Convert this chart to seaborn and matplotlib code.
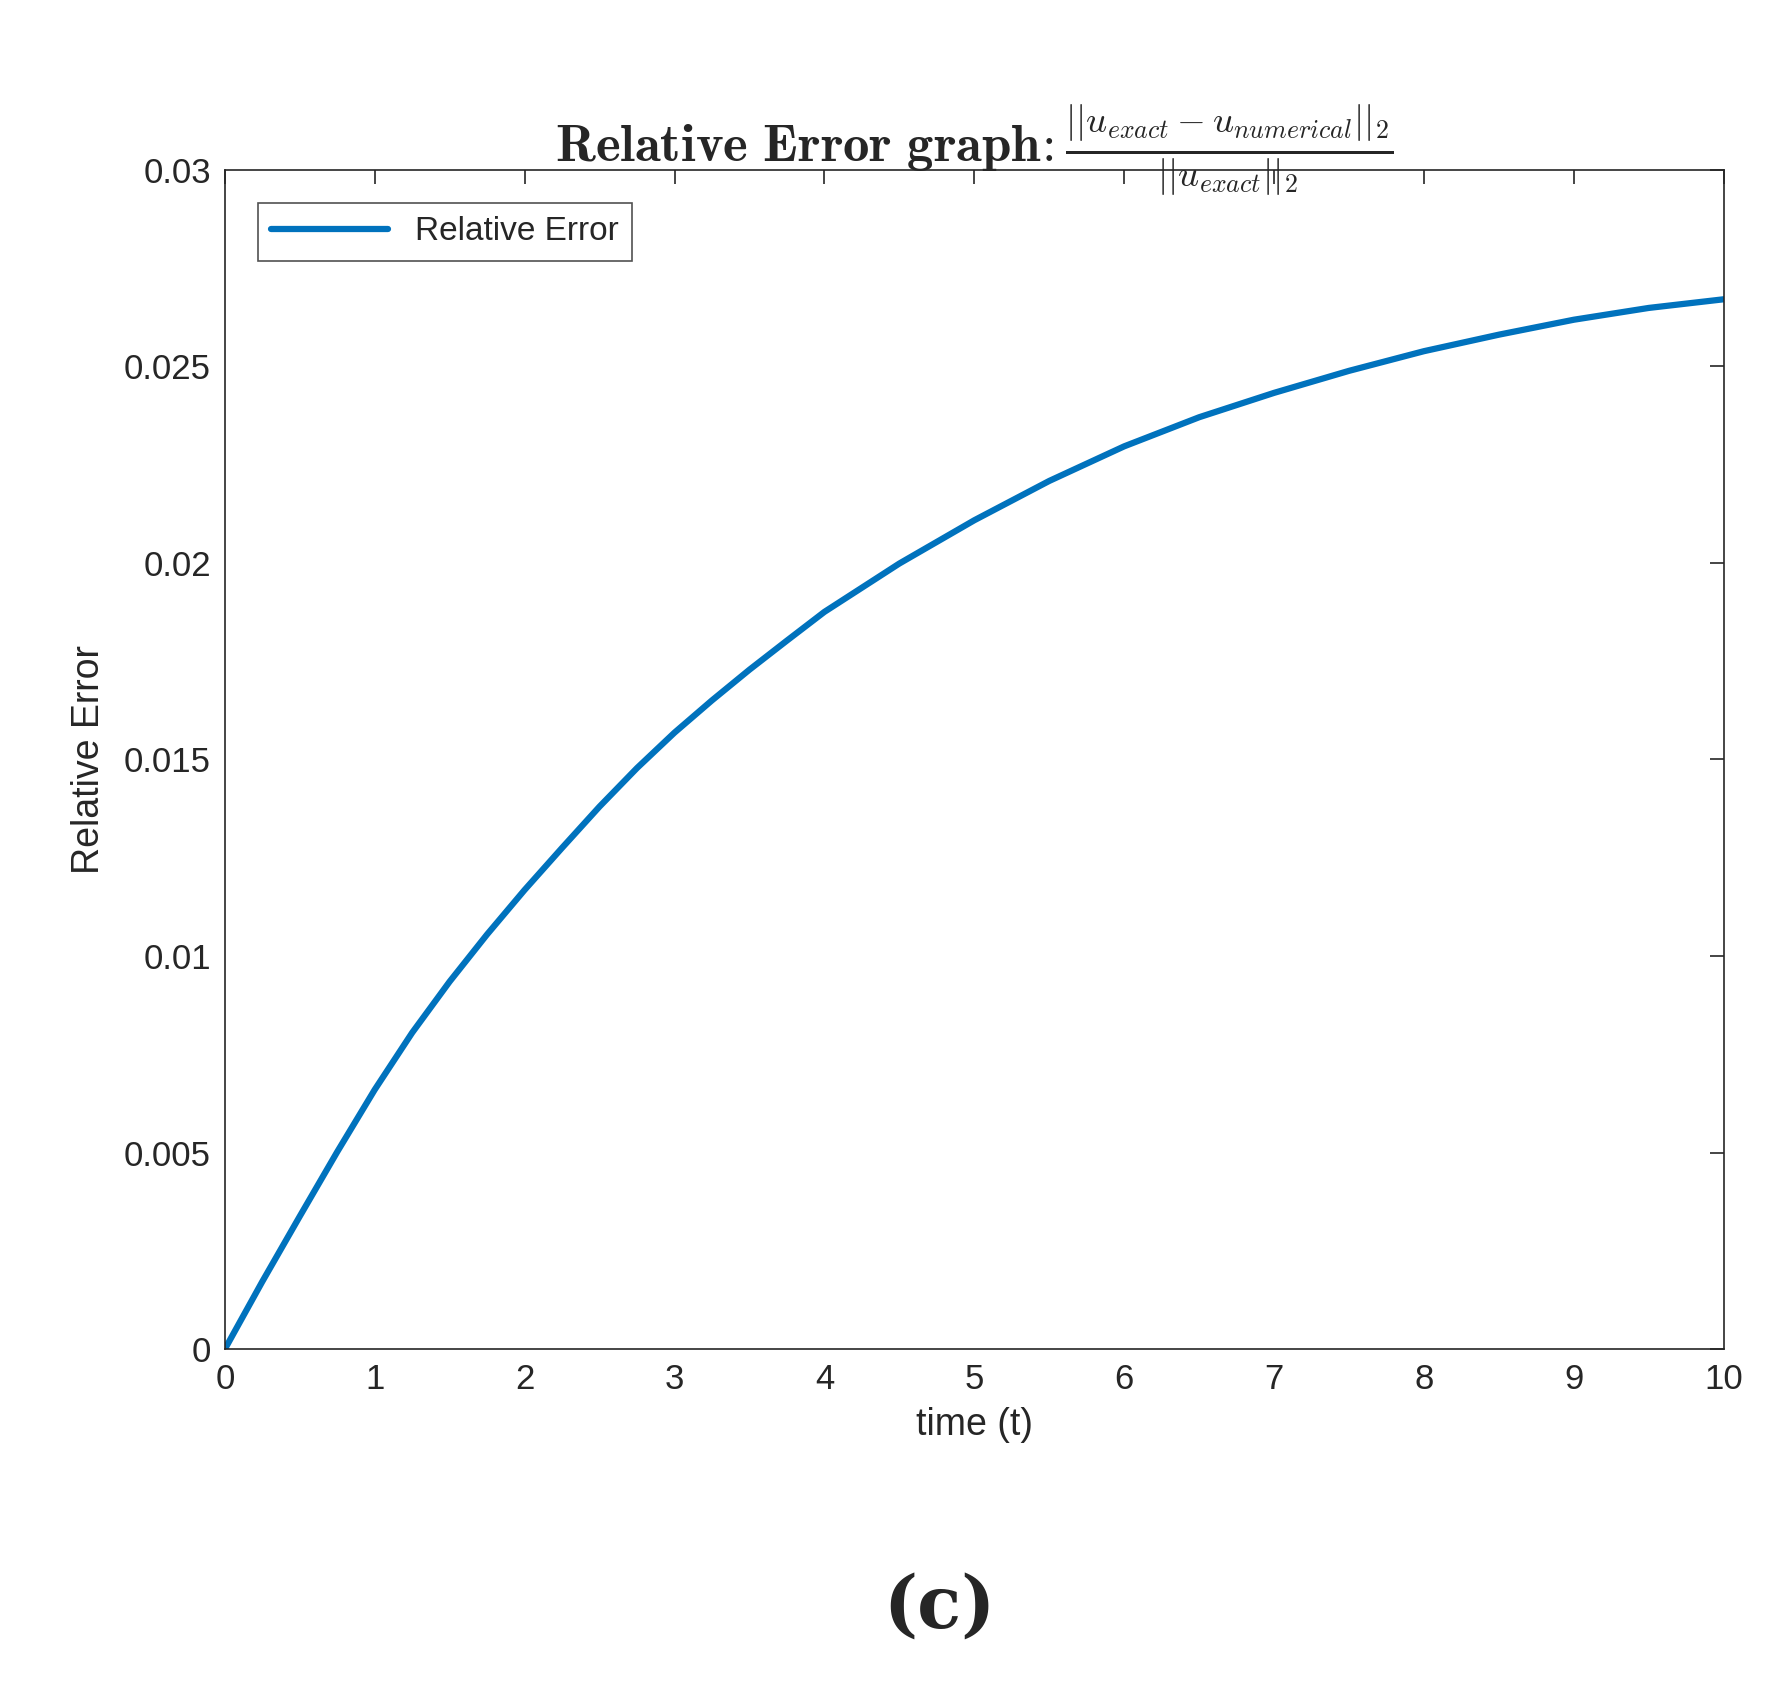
import matplotlib
matplotlib.use("Agg")
import matplotlib.pyplot as plt
import seaborn as sns
import pandas as pd

t_values = [0, 0.25, 0.5, 0.75, 1, 1.25, 1.5, 1.75, 2, 2.25, 2.5, 2.75, 3, 3.25, 3.5, 3.75, 4,
            4.5, 5, 5.5, 6, 6.5, 7, 7.5, 8, 8.5, 9, 9.5, 10]
rel_error = [0.0, 0.00172, 0.00338, 0.00502, 0.00660, 0.00805, 0.00935, 0.01055, 0.01168,
             0.01275, 0.01380, 0.01478, 0.01568, 0.01650, 0.01728, 0.01802, 0.01875,
             0.01998, 0.02108, 0.02208, 0.02296, 0.02370, 0.02432, 0.02488, 0.02538,
             0.02580, 0.02618, 0.02648, 0.02670]
x_ticks = list(range(0, 11))
y_ticks = [0, 0.005, 0.01, 0.015, 0.02, 0.025, 0.03]
y_tick_labels = ["0", "0.005", "0.01", "0.015", "0.02", "0.025", "0.03"]

sns.set_theme(style="white")
plt.rcParams['font.family'] = ['Liberation Sans', 'DejaVu Sans']
plt.rcParams['mathtext.fontset'] = 'cm'

df = pd.DataFrame({"t": t_values, "err": rel_error})
fig = plt.figure(figsize=(17.9, 16.95), dpi=100)
ax = fig.add_axes([0.1256, 0.204, 0.8374, 0.696])
sns.lineplot(data=df, x="t", y="err", ax=ax, color="#0072BD", linewidth=4.5, label="Relative Error")
ax.set_xlim(0, 10)
ax.set_ylim(0, 0.03)
ax.set_xticks(x_ticks)
ax.set_yticks(y_ticks)
ax.set_yticklabels(y_tick_labels)
ax.tick_params(direction="in", top=True, right=True, length=10, width=1.2, labelsize=25, colors="#262626", pad=10)
for s in ax.spines.values():
    s.set_color("#262626"); s.set_linewidth(1.2)
ax.set_xlabel("time (t)", fontsize=27, color="#262626", labelpad=8)
ax.set_ylabel("Relative Error", fontsize=27, color="#262626", labelpad=12)
ax.set_title(r"$\mathbf{Relative\ Error\ graph\!:}\frac{||u_{exact}-u_{numerical}||_2}{||u_{exact}||_2}$",
             fontsize=38, pad=6)
leg = ax.legend(loc="upper left", fontsize=24, frameon=True, fancybox=False, edgecolor="#262626",
                handlelength=3.5, borderaxespad=1.0)
leg.get_frame().set_linewidth(1.2)
fig.text(0.525, 0.04, "(c)", fontsize=52, fontweight="bold", family="DejaVu Serif", ha="center")
fig.savefig("out.png", dpi=100, facecolor="white")
